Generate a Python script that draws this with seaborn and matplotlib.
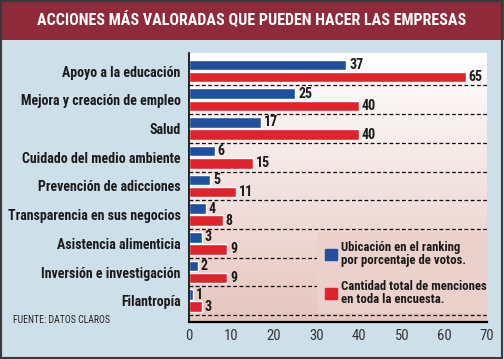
import matplotlib
matplotlib.use('Agg')

import matplotlib.pyplot as plt
import matplotlib.patches as mpatches
from matplotlib import font_manager
import numpy as np
import pandas as pd
import seaborn as sns

acciones = [
    "Apoyo a la educación",
    "Mejora y creación de empleo",
    "Salud",
    "Cuidado del medio ambiente",
    "Prevención de adicciones",
    "Transparencia en sus negocios",
    "Asistencia alimenticia",
    "Inversión e investigación",
    "Filantropía",
]
ranking = [37, 25, 17, 6, 5, 4, 3, 2, 1]
menciones = [65, 40, 40, 15, 11, 8, 9, 9, 3]
serie_ranking = "Ubicación en el ranking\npor porcentaje de votos."
serie_menciones = "Cantidad total de menciones\nen toda la encuesta."
ticks = [0, 10, 20, 30, 40, 50, 60, 70]

AZUL = "#1f4f9e"
ROJO = "#e1222b"
FONDO = "#cddfe8"
GRANATE = "#8e2a39"

nombres = {f.name for f in font_manager.fontManager.ttflist}
fuente = "DejaVu Sans"
for cand in ["Roboto Condensed", "Archivo Narrow", "Barlow Condensed", "Fira Sans Condensed",
             "IBM Plex Sans Condensed", "Liberation Sans Narrow"]:
    if cand in nombres:
        fuente = cand
        break

sns.set_style("white")
plt.rcParams['font.family'] = [fuente, 'DejaVu Sans']

df = pd.DataFrame({
    "accion": acciones * 2,
    "valor": ranking + menciones,
    "serie": [serie_ranking] * len(acciones) + [serie_menciones] * len(acciones),
})

fig = plt.figure(figsize=(5.04, 3.59), dpi=100, facecolor=FONDO)
ax = fig.add_axes([0.375, 0.1031, 0.591, 0.7493])

sns.barplot(data=df, y="accion", x="valor", hue="serie", orient="h",
            palette=[AZUL, ROJO], width=0.84, gap=0.12, saturation=1,
            ax=ax, legend=False)

ylim = (len(acciones) - 0.26, -0.63)

# fondo degradado blanco -> rosado
grad = np.linspace(0, 1, 256).reshape(-1, 1)
cmap = matplotlib.colors.LinearSegmentedColormap.from_list("g", ["#ffffff", "#e6c5be"])
ax.imshow(grad, extent=[0, 70, ylim[0], ylim[1]], aspect="auto", cmap=cmap,
          origin="upper", zorder=0)

for i in range(len(acciones)):
    ax.axhline(i + 0.5, color="black", lw=0.9, ls=(0, (3, 2)), zorder=1)

for cont in ax.containers:
    ax.bar_label(cont, padding=2, fontsize=10, fontweight="bold", color="#1a1a1a")

ax.set_xlim(0, 70)
ax.set_ylim(*ylim)
ax.set_xticks(ticks)
ax.set_xlabel("")
ax.set_ylabel("")
ax.tick_params(axis="x", direction="in", length=5, width=1.5, color="black",
               labelsize=10.5, labelcolor="#333333", pad=5)
ax.tick_params(axis="y", length=0, labelsize=10, pad=6)
for lab in ax.get_yticklabels():
    lab.set_fontweight("bold")
    lab.set_color("#1a1a1a")
for s in ["top", "right"]:
    ax.spines[s].set_visible(False)
ax.spines["bottom"].set_linewidth(1.6)
ax.spines["bottom"].set_color("black")
ax.spines["left"].set_linewidth(1.2)
ax.spines["left"].set_color("black")

# recuadro de la leyenda, tapa las líneas punteadas
ax.add_patch(mpatches.Rectangle((0.43, 0.035), 0.57, 0.30, transform=ax.transAxes,
                                facecolor="#ebd1cb", edgecolor="none", zorder=4))

handles = [mpatches.Patch(color=AZUL, label=serie_ranking),
           mpatches.Patch(color=ROJO, label=serie_menciones)]
leg = ax.legend(handles=handles, loc="upper left", bbox_to_anchor=(0.455, 0.30),
                frameon=False, handlelength=0.95, handleheight=0.95, handletextpad=0.3,
                labelspacing=1.05, borderpad=0, borderaxespad=0,
                prop={"family": fuente, "weight": "bold", "size": 9.2})
for t in leg.get_texts():
    t.set_linespacing(0.95)
    t.set_color("#1a1a1a")
leg.set_zorder(5)

# banda del título
fig.patches.append(mpatches.Rectangle((0, 1 - 40 / 359), 1, 40 / 359, transform=fig.transFigure,
                                      facecolor=GRANATE, edgecolor="none", zorder=0))
fig.text(0.5, 1 - 20 / 359, "ACCIONES MÁS VALORADAS QUE PUEDEN HACER LAS EMPRESAS",
         ha="center", va="center", color="white", fontsize=11.5, fontweight="bold")
fig.text(13 / 504, 1 - 320 / 359, "FUENTE: DATOS CLAROS", ha="left", va="center",
         fontsize=7, color="#222222")
fig.patches.append(mpatches.Rectangle((0.002, 0.004), 0.994, 0.994, transform=fig.transFigure,
                                      facecolor="none", edgecolor="#3a3a3a", lw=1.5, zorder=10))

fig.savefig("out.png", dpi=100, facecolor=FONDO)
